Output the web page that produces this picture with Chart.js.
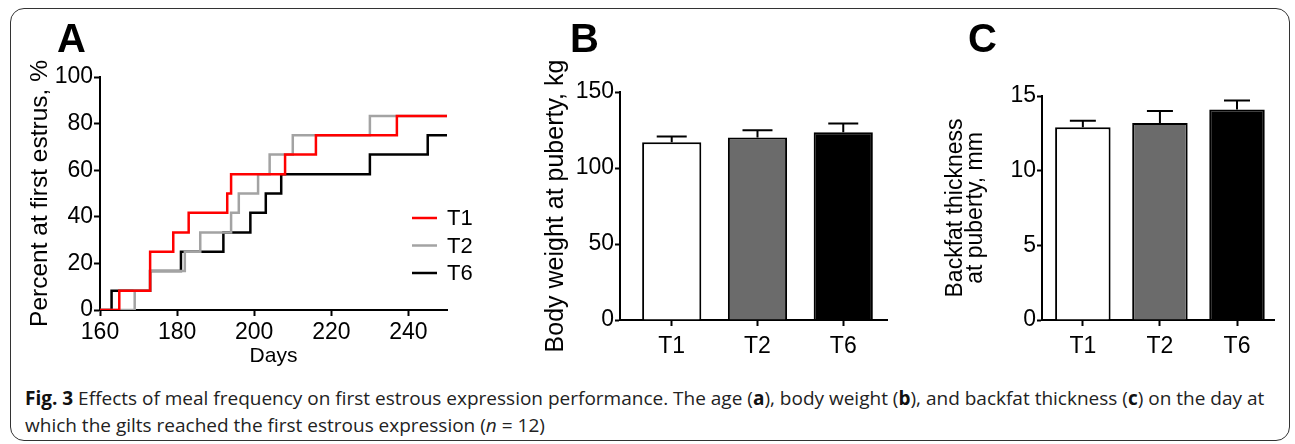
<!DOCTYPE html>
<html>
<head>
<meta charset="utf-8">
<script src="https://cdn.jsdelivr.net/npm/chart.js@4.4.1/dist/chart.umd.min.js"></script>
<style>
  html, body { margin: 0; padding: 0; background: #fff; }
  body { width: 1295px; height: 444px; position: relative; overflow: hidden; font-family: "Liberation Sans", Arial, sans-serif; }
  .frame { position: absolute; left: 10px; top: 8px; width: 1280px; height: 433px; border: 1.5px solid #333; border-radius: 14px; box-sizing: border-box; }
  .panel { position: absolute; top: 0; }
  .letter { position: absolute; font-weight: bold; font-size: 40px; line-height: 1; color: #000; }
  .caption { position: absolute; left: 25px; top: 385px; font-family: "Open Sans", sans-serif; font-size: 19px; line-height: 27px; color: #222; white-space: nowrap; }
  .caption b { color: #111; }
</style>
</head>
<body>
<div class="frame"></div>
<canvas id="chartA" class="panel" style="left:0px" width="480" height="380"></canvas>
<canvas id="chartB" class="panel" style="left:520px" width="380" height="380"></canvas>
<canvas id="chartC" class="panel" style="left:920px" width="370" height="380"></canvas>
<div class="letter" style="left:57px; top:18px">A</div>
<div class="letter" style="left:570px; top:18px">B</div>
<div class="letter" style="left:968px; top:18px">C</div>
<div class="caption"><b>Fig. 3</b> Effects of meal frequency on first estrous expression performance. The age (<b>a</b>), body weight (<b>b</b>), and backfat thickness (<b>c</b>) on the day at<br>which the gilts reached the first estrous expression (<i>n</i> = 12)</div>

<script>
// Panel A: cumulative percent of gilts at first estrus by day
const t1Days = [160, 165, 173, 179, 183, 193, 194, 208, 216, 237, 250];
const t1Pct  = [0, 8.3, 25, 33.3, 41.7, 50, 58.3, 66.7, 75, 83.3, 83.3];
const t2Days = [160, 169, 173, 182, 186, 194, 196, 201, 204, 210, 230, 250];
const t2Pct  = [0, 8.3, 16.7, 25, 33.3, 41.7, 50, 58.3, 66.7, 75, 83.3, 83.3];
const t6Days = [160, 163, 173, 181, 192, 199, 203, 207, 230, 245, 250];
const t6Pct  = [0, 8.3, 16.7, 25, 33.3, 41.7, 50, 58.3, 66.7, 75, 75];
const dayTicks = [160, 180, 200, 220, 240];
const pctTicks = [0, 20, 40, 60, 80, 100];

// Panels B and C
const groups = ['T1', 'T2', 'T6'];
const weight = [117, 120, 123.6];
const weightErr = [3.8, 4.8, 5.6];
const weightTicks = [0, 50, 100, 150];
const backfat = [12.9, 13.2, 14.1];
const backfatErr = [0.45, 0.8, 0.6];
const backfatTicks = [0, 5, 10, 15];

const FONT = "'Liberation Sans', Arial, sans-serif";
Chart.defaults.font.family = FONT;
Chart.defaults.color = '#000';

const axisGrid = { display: true, drawOnChartArea: false, drawTicks: true, tickLength: 6, tickColor: '#000', tickWidth: 2, offset: false };
const axisBorder = { display: true, color: '#000', width: 2 };

function toPoints(xs, ys) {
    return xs.map((x, i) => ({ x: x, y: ys[i] }));
}

// Legend drawn inside panel A
const stepLegend = {
    id: 'stepLegend',
    afterDraw(chart) {
        const ctx = chart.ctx;
        ctx.save();
        ctx.font = '22px ' + FONT;
        ctx.textBaseline = 'middle';
        chart.data.datasets.forEach((ds, i) => {
            const y = 218 + i * 27.5;
            ctx.strokeStyle = ds.borderColor;
            ctx.lineWidth = 2.5;
            ctx.beginPath();
            ctx.moveTo(412, y);
            ctx.lineTo(437, y);
            ctx.stroke();
            ctx.fillStyle = '#000';
            ctx.fillText(ds.label, 447, y + 1);
        });
        ctx.restore();
    }
};

// Upward error bars with cap
const errorBars = {
    id: 'errorBars',
    afterDatasetsDraw(chart, args, opts) {
        const { ctx, scales: { x, y } } = chart;
        const ds = chart.data.datasets[0];
        ctx.save();
        ctx.strokeStyle = '#000';
        ctx.lineWidth = 2;
        ds.data.forEach((pt, i) => {
            const px = x.getPixelForValue(pt.x);
            const top = y.getPixelForValue(pt.y);
            const hi = y.getPixelForValue(pt.y + opts.errors[i]);
            ctx.beginPath();
            ctx.moveTo(px, top);
            ctx.lineTo(px, hi);
            ctx.moveTo(px - opts.cap / 2, hi);
            ctx.lineTo(px + opts.cap / 2, hi);
            ctx.stroke();
        });
        ctx.restore();
    }
};

new Chart(document.getElementById('chartA'), {
    type: 'line',
    data: {
        datasets: [
            { label: 'T1', data: toPoints(t1Days, t1Pct), borderColor: '#ff0000' },
            { label: 'T2', data: toPoints(t2Days, t2Pct), borderColor: '#a3a3a3' },
            { label: 'T6', data: toPoints(t6Days, t6Pct), borderColor: '#000000' }
        ]
    },
    options: {
        responsive: false,
        animation: false,
        layout: { padding: { top: 77, right: 33, left: 0, bottom: 0 } },
        plugins: { legend: { display: false }, tooltip: { enabled: false } },
        elements: {
            point: { radius: 0 },
            line: { stepped: 'before', borderWidth: 2.5, fill: false }
        },
        scales: {
            x: {
                type: 'linear', min: 160, max: 250,
                afterFit: s => { s.height = 70; },
                afterBuildTicks: s => { s.ticks = dayTicks.map(v => ({ value: v })); },
                ticks: { font: { size: 23 }, padding: 3, maxRotation: 0, autoSkip: false },
                grid: axisGrid, border: axisBorder,
                title: { display: true, text: 'Days', font: { size: 21 }, padding: { top: 0, bottom: 11 } }
            },
            y: {
                type: 'linear', min: 0, max: 100,
                afterFit: s => { s.width = 100; },
                afterBuildTicks: s => { s.ticks = pctTicks.map(v => ({ value: v })); },
                ticks: { font: { size: 23 }, padding: 1 },
                grid: axisGrid, border: axisBorder,
                title: { display: true, text: 'Percent at first estrus, %', font: { size: 24.5 }, padding: { top: 26, bottom: 0 } }
            }
        }
    },
    plugins: [stepLegend]
});

function barChart(id, values, errors, yTicks, yMax, title, opts) {
    return new Chart(document.getElementById(id), {
        type: 'bar',
        data: {
            datasets: [{
                data: toPoints(groups.map((g, i) => i + 1), values),
                backgroundColor: ['#ffffff', '#6b6b6b', '#000000'],
                borderColor: '#000',
                borderWidth: 2,
                categoryPercentage: 1,
                barPercentage: opts.barPct
            }]
        },
        options: {
            responsive: false,
            animation: false,
            layout: { padding: { top: opts.top, right: opts.right, left: 0, bottom: 0 } },
            plugins: {
                legend: { display: false }, tooltip: { enabled: false },
                errorBars: { errors: errors, cap: opts.cap }
            },
            scales: {
                x: {
                    type: 'linear', min: opts.xMin, max: opts.xMax, offset: false,
                    afterFit: s => { s.height = 60; },
                    afterBuildTicks: s => { s.ticks = groups.map((g, i) => ({ value: i + 1 })); },
                    ticks: { font: { size: 23 }, padding: 7, maxRotation: 0, autoSkip: false,
                             callback: v => groups[v - 1] },
                    grid: axisGrid, border: axisBorder
                },
                y: {
                    type: 'linear', min: 0, max: yMax,
                    afterFit: s => { s.width = opts.yWidth; },
                    afterBuildTicks: s => { s.ticks = yTicks.map(v => ({ value: v })); },
                    ticks: { font: { size: 23 }, padding: 1 },
                    grid: Object.assign({}, axisGrid, { tickLength: 5 }), border: axisBorder,
                    title: { display: true, text: title, font: { size: opts.titleSize, lineHeight: opts.titleLh },
                             padding: { top: opts.titlePad, bottom: 0 } }
                }
            }
        },
        plugins: [errorBars]
    });
}

barChart('chartB', weight, weightErr, weightTicks, 150, 'Body weight at puberty, kg',
    { top: 92, right: 13, yWidth: 100, xMin: 0.397, xMax: 3.51, barPct: 0.69, cap: 30,
      titleSize: 25, titleLh: 1.2, titlePad: 21 });

barChart('chartC', backfat, backfatErr, backfatTicks, 15, ['Backfat thickness', 'at puberty, mm'],
    { top: 96, right: 16, yWidth: 122, xMin: 0.47, xMax: 3.48, barPct: 0.72, cap: 26,
      titleSize: 23, titleLh: 0.87, titlePad: 26 });
</script>
</body>
</html>
